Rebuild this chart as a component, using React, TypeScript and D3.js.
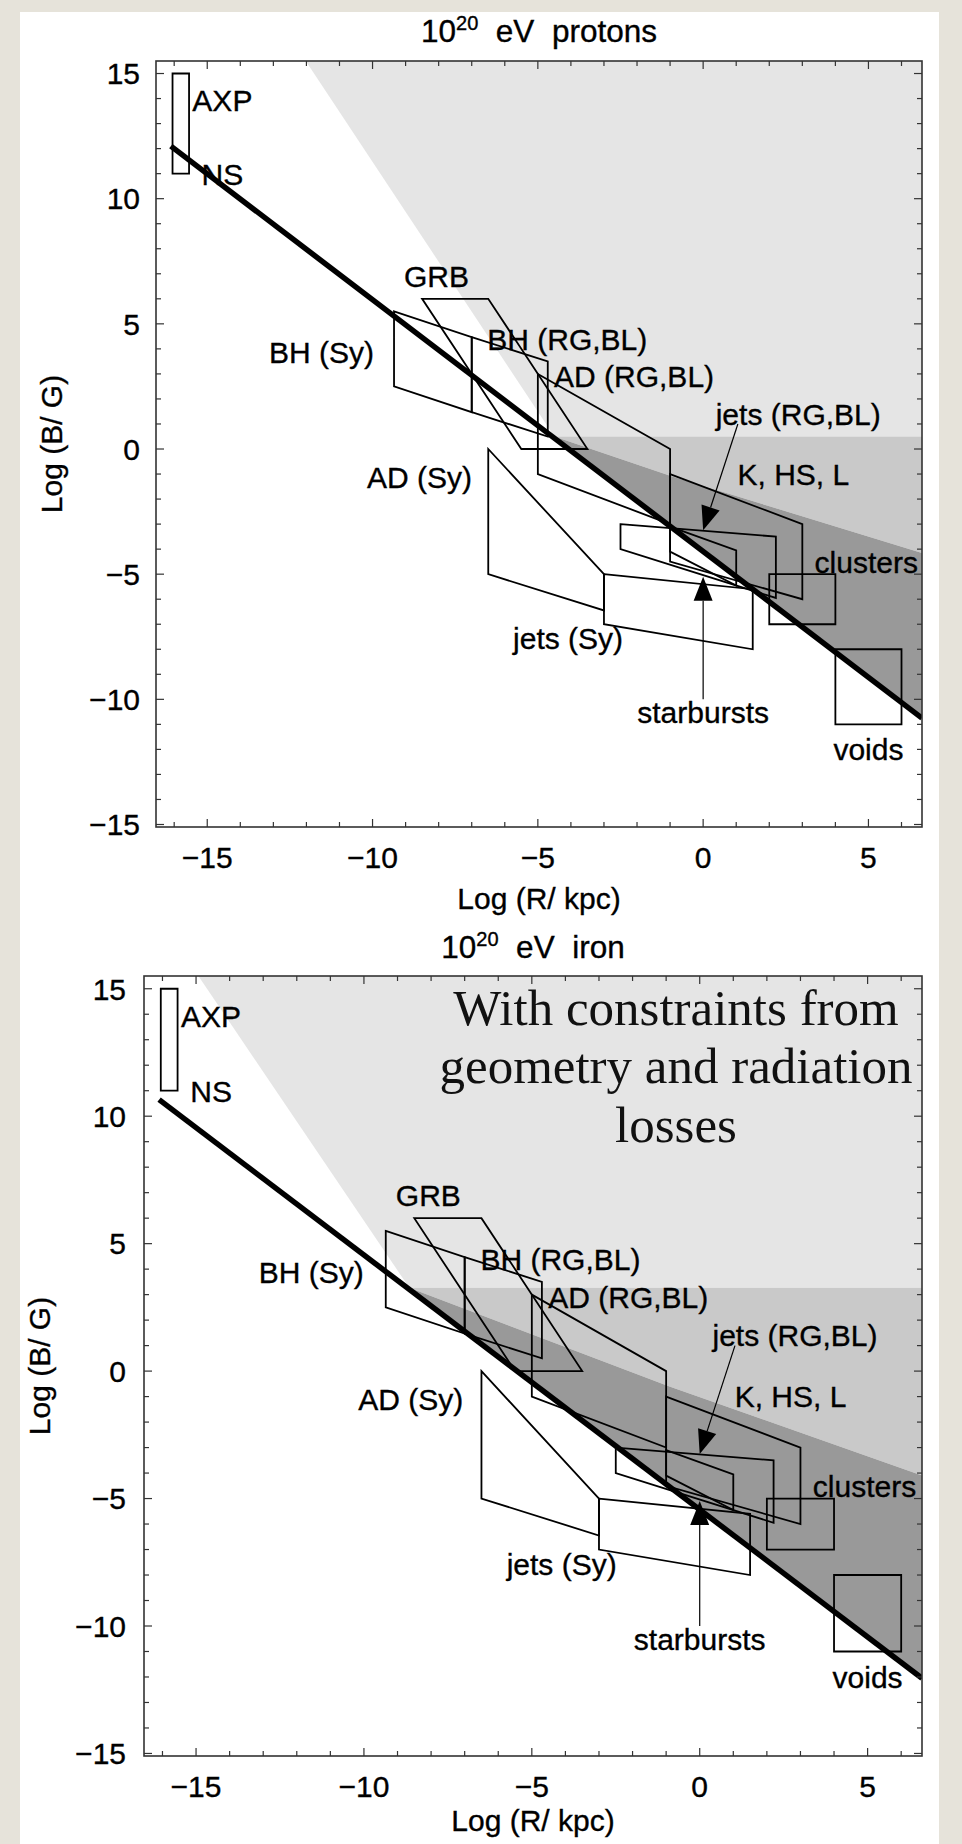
import React from 'react';
import * as d3 from 'd3';

type Pt = [number, number];

// ---------- axes ----------
const X_DOMAIN: Pt = [-16.55, 6.62];
const Y_DOMAIN: Pt = [-15.1, 15.5];
const X_TICK_LABELS = [-15, -10, -5, 0, 5];
const Y_TICK_LABELS = [-15, -10, -5, 0, 5, 10, 15];
const X_MINOR_TICKS = [-16, -15, -14, -13, -12, -11, -10, -9, -8, -7, -6, -5, -4, -3, -2, -1, 0, 1, 2, 3, 4, 5, 6];
const Y_MINOR_TICKS = [-15, -14, -13, -12, -11, -10, -9, -8, -7, -6, -5, -4, -3, -2, -1, 0, 1, 2, 3, 4, 5, 6, 7, 8, 9, 10, 11, 12, 13, 14, 15];

// ---------- source regions: [log R/kpc, log B/G] ----------
const AXP_BOX: Pt[] = [[-16.05, 15], [-15.55, 15], [-15.55, 11], [-16.05, 11]];
const GRB_REGION: Pt[] = [[-8.5, 6], [-6.5, 6], [-3.5, 0], [-5.5, 0]];
const BH_SY: Pt[] = [[-9.35, 5.5], [-7, 4.47], [-7, 1.47], [-9.35, 2.5]];
const BH_RG: Pt[] = [[-7, 4.47], [-4.7, 3.5], [-4.7, 0.5], [-7, 1.47]];
const AD_RG: Pt[] = [[-5, 3], [-1, 0], [-1, -3], [-5, -1]];
const AD_SY: Pt[] = [[-6.5, 0], [-3, -5], [-3, -6.45], [-6.5, -5]];
const JETS_SY: Pt[] = [[-3, -5], [1.5, -5.6], [1.5, -8.0], [-3, -7.0]];
const JETS_RG: Pt[] = [[-2.5, -3], [2.2, -3.5], [2.2, -5.95], [-2.5, -4]];
const K_HS_L: Pt[] = [[-1, -1], [3, -3], [3, -6], [-1, -4.5]];
const STARBURSTS: Pt[] = [[-1, -3.1], [1, -4.05], [1, -5.45], [-1, -4.1]];
const CLUSTERS: Pt[] = [[2, -5], [4, -5], [4, -7], [2, -7]];
const VOIDS: Pt[] = [[4, -8], [6, -8], [6, -11], [4, -11]];
const SOURCES: Pt[][] = [AXP_BOX, GRB_REGION, BH_SY, BH_RG, AD_RG, AD_SY, JETS_SY, JETS_RG, K_HS_L, STARBURSTS, CLUSTERS, VOIDS];

// ---------- labels ----------
const LABEL_TEXT = ['AXP', 'NS', 'GRB', 'BH (Sy)', 'BH (RG,BL)', 'AD (RG,BL)', 'jets (RG,BL)', 'K, HS, L', 'clusters', 'AD (Sy)', 'jets (Sy)', 'starbursts', 'voids'];
const LABEL_X = [-15.45, -15.17, -9.05, -13.13, -6.53, -4.51, 0.38, 1.04, 3.37, -10.17, -5.75, 0, 5.0];
const LABEL_Y = [13.94, 10.99, 6.9, 3.87, 4.4, 2.9, 1.4, -0.99, -4.52, -1.12, -7.57, -10.52, -12.0];
const LABEL_ANCHOR = ['start', 'start', 'start', 'start', 'start', 'start', 'start', 'start', 'start', 'start', 'start', 'middle', 'middle'];

// ---------- arrows ----------
const ARROW_JETS: Pt[] = [[1.05, 1.0], [0, -3.25]];
const ARROW_STARBURSTS: Pt[] = [[0, -10.0], [0, -5.1]];
const ARROWS: Pt[][] = [ARROW_JETS, ARROW_STARBURSTS];

// ---------- protons panel ----------
const PROTON_LIGHT: Pt[] = [[-12.02, 15.5], [6.62, 15.5], [6.62, 0.5], [-4.5, 0.5]];
const PROTON_MEDIUM: Pt[] = [[-4.5, 0.5], [6.62, 0.5], [6.62, -4.15], [-0.93, -1.1]];
const PROTON_DARK: Pt[] = [[-4.5, 0.5], [-0.93, -1.1], [6.62, -4.15], [6.62, -10.75], [-4.5, 0.42]];
const PROTON_LIMIT: Pt[] = [[-16.1, 12.1], [6.62, -10.75]];

// ---------- iron panel ----------
const IRON_LIGHT: Pt[] = [[-14.93, 15.5], [6.62, 15.5], [6.62, 3.27], [-8.65, 3.27]];
const IRON_MEDIUM: Pt[] = [[-8.65, 3.27], [6.62, 3.27], [6.62, -4.1], [-0.9, -0.6]];
const IRON_DARK: Pt[] = [[-8.65, 3.27], [-0.9, -0.6], [6.62, -4.1], [6.62, -12.05], [-8.65, 3.2]];
const IRON_LIMIT: Pt[] = [[-16.1, 10.65], [6.62, -12.05]];

const NOTE_LINES = ['With constraints from', 'geometry and radiation', 'losses'];

const SANS = '"Liberation Sans", Arial, Helvetica, sans-serif';
const SERIF = '"Liberation Serif", "Times New Roman", serif';

interface PanelProps {
  id: string;
  left: number; right: number; top: number; bottom: number;
  titleWord: string; titleY: number;
  xTitleY: number; yTitleX: number;
  xTickY: number; yTickRight: number;
  light: Pt[]; medium: Pt[]; dark: Pt[]; limit: Pt[];
}

const TXT = { fontFamily: SANS, fontSize: 30, fill: '#000', stroke: '#000', strokeWidth: 0.35 };

function Panel(p: PanelProps) {
  const x = d3.scaleLinear().domain(X_DOMAIN).range([p.left, p.right]);
  const y = d3.scaleLinear().domain(Y_DOMAIN).range([p.bottom, p.top]);
  const line = d3.line<Pt>().x(d => x(d[0])).y(d => y(d[1]));
  const poly = (pts: Pt[]) => (line(pts) || '') + 'Z';
  const cx = (p.left + p.right) / 2;
  const cy = (p.top + p.bottom) / 2;
  const clipId = 'clip-' + p.id;
  const tickLen = (major: boolean) => (major ? 8 : 5);

  const arrowEls = ARROWS.map((a, i) => {
    const x0 = x(a[0][0]), y0 = y(a[0][1]);
    const x1 = x(a[1][0]), y1 = y(a[1][1]);
    const dx = x1 - x0, dy = y1 - y0;
    const L = Math.hypot(dx, dy);
    const ux = dx / L, uy = dy / L;
    const hl = 24, hw = 9.5;
    const bx = x1 - ux * hl, by = y1 - uy * hl;
    const nx = -uy, ny = ux;
    const head = `M${x1},${y1}L${bx + nx * hw},${by + ny * hw}L${bx - nx * hw},${by - ny * hw}Z`;
    return (
      <g key={'ar' + i}>
        <line x1={x0} y1={y0} x2={bx} y2={by} stroke="#000" strokeWidth={1.2} />
        <path d={head} fill="#000" />
      </g>
    );
  });

  return (
    <g>
      <defs>
        <clipPath id={clipId}>
          <rect x={p.left} y={p.top} width={p.right - p.left} height={p.bottom - p.top} />
        </clipPath>
      </defs>
      <g clipPath={`url(#${clipId})`}>
        <path d={poly(p.light)} fill="#e5e5e5" />
        <path d={poly(p.medium)} fill="#c9c9c9" />
        <path d={poly(p.dark)} fill="#999999" />
        <path d={line(p.limit) || ''} stroke="#000" strokeWidth={5.5} fill="none" />
      </g>
      {SOURCES.map((s, i) => (
        <path key={'s' + i} d={poly(s)} fill="none" stroke="#000" strokeWidth={1.8} strokeLinejoin="miter" />
      ))}
      {arrowEls}
      {LABEL_TEXT.map((t, i) => (
        <text key={'l' + i} x={x(LABEL_X[i])} y={y(LABEL_Y[i])} dy="0.36em"
          textAnchor={LABEL_ANCHOR[i] as any} {...TXT}>{t}</text>
      ))}
      {/* frame */}
      <rect x={p.left} y={p.top} width={p.right - p.left} height={p.bottom - p.top} fill="none" stroke="#333" strokeWidth={1.6} />
      {X_MINOR_TICKS.map(v => {
        const major = X_TICK_LABELS.includes(v);
        const xx = x(v);
        return (
          <g key={'xt' + v} stroke="#333" strokeWidth={1.2}>
            <line x1={xx} x2={xx} y1={p.bottom} y2={p.bottom - tickLen(major)} />
            <line x1={xx} x2={xx} y1={p.top} y2={p.top + tickLen(major)} />
          </g>
        );
      })}
      {Y_MINOR_TICKS.map(v => {
        const major = Y_TICK_LABELS.includes(v);
        const yy = y(v);
        return (
          <g key={'yt' + v} stroke="#333" strokeWidth={1.2}>
            <line y1={yy} y2={yy} x1={p.left} x2={p.left + tickLen(major)} />
            <line y1={yy} y2={yy} x1={p.right} x2={p.right - tickLen(major)} />
          </g>
        );
      })}
      {X_TICK_LABELS.map(v => (
        <text key={'xl' + v} x={x(v)} y={p.xTickY} textAnchor="middle" {...TXT}>
          {v < 0 ? '\u2212' + Math.abs(v) : String(v)}
        </text>
      ))}
      {Y_TICK_LABELS.map(v => (
        <text key={'yl' + v} x={p.yTickRight} y={y(v)} dy="0.36em" textAnchor="end" {...TXT}>
          {v < 0 ? '\u2212' + Math.abs(v) : String(v)}
        </text>
      ))}
      {/* titles */}
      <text x={cx} y={p.titleY} textAnchor="middle" {...TXT} fontSize={31.5} style={{ whiteSpace: 'pre' }}>
        10<tspan fontSize={20} dy={-12}>20</tspan><tspan dy={12}>{'  eV  ' + p.titleWord}</tspan>
      </text>
      <text x={cx} y={p.xTitleY} textAnchor="middle" {...TXT}>Log (R/ kpc)</text>
      <text transform={`translate(${p.yTitleX},${cy}) rotate(-90)`} textAnchor="middle" {...TXT}>Log (B/ G)</text>
    </g>
  );
}

export default function App() {
  return (
    <svg width={962} height={1844} viewBox="0 0 962 1844"
      style={{ position: 'absolute', left: 0, top: 0, display: 'block' }}>
      <rect x={0} y={0} width={962} height={1844} fill="#e6e3da" />
      <rect x={20} y={12} width={919} height={1840} fill="#ffffff" />
      <Panel id="p" left={156} right={922} top={61} bottom={827}
        titleWord="protons" titleY={42} xTitleY={909} yTitleX={62}
        xTickY={868} yTickRight={140}
        light={PROTON_LIGHT} medium={PROTON_MEDIUM} dark={PROTON_DARK} limit={PROTON_LIMIT} />
      <Panel id="fe" left={144} right={922} top={976} bottom={1756}
        titleWord="iron" titleY={958} xTitleY={1831} yTitleX={50}
        xTickY={1797} yTickRight={126}
        light={IRON_LIGHT} medium={IRON_MEDIUM} dark={IRON_DARK} limit={IRON_LIMIT} />
      {NOTE_LINES.map((t, i) => (
        <text key={'n' + i} x={676} y={[1025, 1083, 1142][i]} textAnchor="middle" fontFamily={SERIF} fontSize={51} fill="#111">{t}</text>
      ))}
    </svg>
  );
}
